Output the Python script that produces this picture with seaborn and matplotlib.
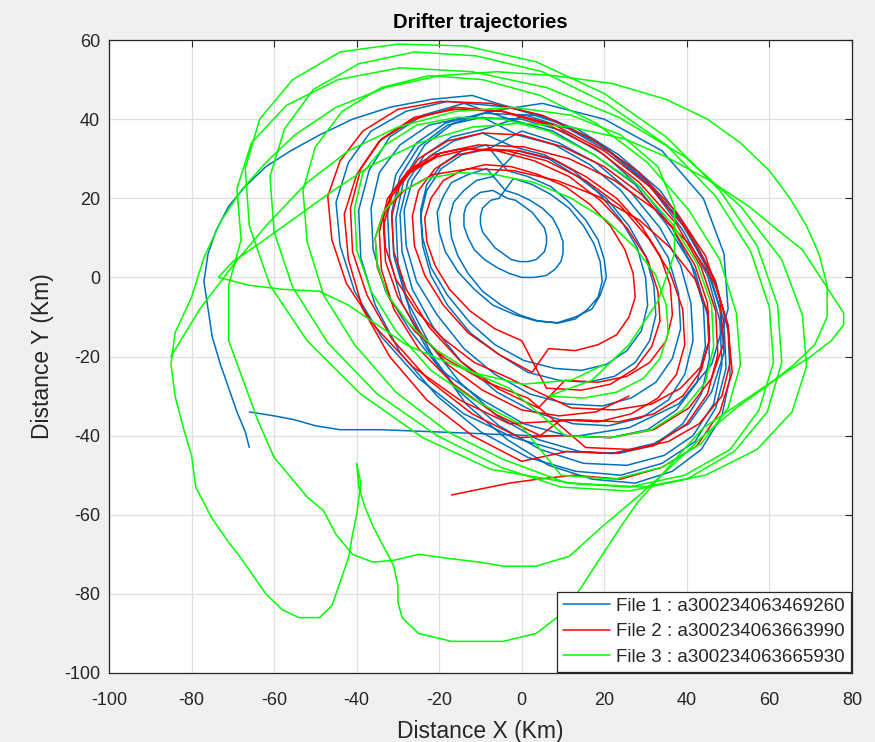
import matplotlib
matplotlib.use("Agg")
import matplotlib.pyplot as plt
import seaborn as sns
import pandas as pd

# File 1 : a300234063469260 (blue)
blue_x = [-66, -67, -69, -71, -73, -75, -76, -77, -76, -74, -71, -67, -62, -56, -49, -41, -32, -22, -12,
          -6, 6, 18, 29, 38, 44.5, 48, 49, 46, 40.5, 32, 22, 10, -2, -14, -25, -34, -40.5, -44, -45, -42, -36.5, -28, -18,
          -3, 8.5, 20, 30.5, 39.5, 45.5, 49, 49.5, 47, 42, 34, 24, 13, 1.5, -10, -20.5, -29.5, -35.5, -39, -39.5, -37, -32, -24, -14,
          -3, 7.5, 17.5, 27.5, 35, 41, 44, 44.5, 42.5, 37.5, 30.5, 21.5, 11, 0.5, -9.5, -19.5, -27, -33, -36, -36.5, -34.5, -29.5, -22.5, -13.5,
          0, 10, 20, 29, 36.5, 42, 45, 45.5, 43.5, 39, 32, 23.5, 14, 4, -6, -15, -22.5, -28, -31, -31.5, -29.5, -25, -18, -9.5,
          -1, 8, 16.5, 24, 30.5, 35.5, 38, 38.5, 36.5, 32.5, 26.5, 19.5, 11, 2, -6.5, -14, -20.5, -25.5, -28, -28.5, -26.5, -22.5, -16.5, -9.5,
          -2, 5.5, 12.5, 18.5, 24, 28, 30, 30.5, 29, 25.5, 20.5, 14.5, 8, 0.5, -6.5, -12.5, -18, -22, -24, -24.5, -23, -19.5, -14.5, -8.5,
          -3.5, 1.5, 7, 11.5, 15.5, 18.5, 20, 20.5, 19, 17, 13, 8.5, 3.5, -1.5, -7, -11.5, -15.5, -18.5, -20, -20.5, -19, -17, -13, -8.5,
          -4, -1, 2, 5, 7.5, 9, 10, 10, 9.5, 8, 6, 3, 0, -3, -6, -9, -11.5, -13, -14, -14, -13.5, -12, -10, -7,
          -3.5, -1.5, 0.5, 2.5, 4, 5.5, 6, 6, 5.5, 4.5, 3.5, 1.5, -0.5, -2.5, -4.5, -6.5, -8, -9.5, -10, -10, -9.5, -8.5, -7.5, -5.5,
          -2, 2.5, 7, 11.5, 15, 17.5, 19, 19.5, 18.5, 16, 13, 9, 4, -0.5, -5, -9.5, -13, -15.5, -17, -17.5, -16.5, -14, -11, -7,
          -1, 6.5, 13.5, 20.5, 26, 30, 32, 32.5, 31, 27.5, 22.5, 16, 9, 1.5, -5.5, -12.5, -18, -22, -24, -24.5, -23, -19.5, -14.5, -8,
          0, 9, 18, 26.5, 33.5, 38.5, 41, 41.5, 39.5, 35.5, 29, 21, 12.5, 3, -6, -14.5, -21.5, -26.5, -29, -29.5, -27.5, -23.5, -17, -9,
          1, 11.5, 21.5, 31.5, 39, 45, 48, 48.5, 46.5, 41.5, 34.5, 25.5, 15, 4.5, -5.5, -15.5, -23, -29, -32, -32.5, -30.5, -25.5, -18.5, -9.5,
          3, 13.5, 23.5, 33.5, 41, 47, 50, 50.5, 48.5, 43.5, 36.5, 27.5, 17, 6.5, -3.5, -13.5, -21, -27, -30, -30.5, -28.5, -23.5, -16.5, -7.5,
          5, 20, 34, 44, 49, 50, 46, 38, 26, 14, 2, -10, -22, -34, -44, -50, -55, -60, -66]
blue_y = [-43, -39, -34, -28, -22, -15, -8, -1, 6, 12, 18, 23, 28, 32, 36, 40, 43, 45, 46,
          44, 40.5, 34.5, 25.5, 15, 3.5, -8, -19, -29, -37, -42, -44.5, -44, -40.5, -34.5, -25.5, -15, -3.5, 8, 19, 29, 37, 42, 44.5,
          43, 39.5, 33, 24, 13, 1, -11, -23, -33, -41.5, -47, -50, -49, -45.5, -39, -30, -19, -7, 5, 17, 27, 35.5, 41, 44,
          40, 37, 31, 23.5, 13.5, 3.5, -7, -17.5, -26.5, -33.5, -38.5, -40.5, -40, -37, -31, -23.5, -13.5, -3.5, 7, 17.5, 26.5, 33.5, 38.5, 40.5,
          40, 37, 31, 22.5, 12.5, 1.5, -9.5, -20.5, -29.5, -37, -42.5, -44.5, -44, -41, -35, -26.5, -16.5, -5.5, 5.5, 16.5, 25.5, 33, 38.5, 40.5,
          36, 33.5, 28.5, 22, 13.5, 5, -4, -13, -20.5, -26.5, -30.5, -32.5, -32, -29.5, -24.5, -18, -9.5, -1, 8, 17, 24.5, 30.5, 34.5, 36.5,
          33, 31, 27, 21.5, 14.5, 7.5, 0, -7, -13.5, -18.5, -22, -23.5, -23, -21, -17, -11.5, -4.5, 2.5, 10, 17, 23.5, 28.5, 32, 33.5,
          27, 25.5, 23, 19, 14.5, 9.5, 4.5, 0, -4.5, -8, -10, -11.5, -11, -9.5, -7, -3, 1.5, 6.5, 11.5, 16.5, 20.5, 24, 26, 27.5,
          22, 21, 19.5, 17.5, 15, 12, 9, 6, 4, 2, 0.5, 0, 0, 1, 2.5, 4.5, 7, 10, 13, 16, 18, 20, 21.5, 22,
          20, 19.5, 18, 16.5, 14.5, 12.5, 10.5, 8.5, 6.5, 5.5, 4.5, 4, 4, 4.5, 6, 7.5, 9.5, 11.5, 13.5, 15.5, 17.5, 18.5, 19.5, 20,
          25, 23.5, 21, 17.5, 13, 8.5, 4, -1, -5, -8, -10.5, -11.5, -11, -9.5, -7, -3.5, 1, 5.5, 10, 15, 19, 22, 24.5, 25.5,
          32, 30, 25.5, 20, 13, 5.5, -2, -9.5, -16, -21.5, -25, -26.5, -26, -24, -19.5, -14, -7, 0.5, 8, 15.5, 22, 27.5, 31, 32.5,
          37, 34, 29, 21.5, 12.5, 3, -6.5, -16, -24.5, -31, -35.5, -37.5, -37, -34, -29, -21.5, -12.5, -3, 6.5, 16, 24.5, 31, 35.5, 37.5,
          41, 37.5, 31.5, 22.5, 12, 0.5, -11, -22, -32, -40, -45, -47.5, -47, -43.5, -37.5, -28.5, -18, -6.5, 5, 16, 26, 34, 39, 41.5,
          41, 37.5, 31, 22, 11, -1, -13.5, -25, -35, -43.5, -49, -52, -51, -47.5, -41, -32, -21, -9, 3.5, 15, 25, 33.5, 39, 42,
          44, 40, 32, 20, 6, -8, -22, -32, -38, -40, -40, -39.5, -39, -38.5, -38.5, -37.5, -36, -35, -34]

# File 2 : a300234063663990 (red)
red_x = [-17, -10, -3, 4,
         12.5, 24, 34, 42.5, 48, 51, 50, 46.5, 40, 31, 20, 8, -4.5, -16, -26, -34.5, -40, -43, -42, -38.5, -32, -23, -12, 0,
         11, 22, 32, 40, 45, 47.5, 47, 43.5, 37.5, 28.5, 18, 6.5, -5, -16, -26, -34, -39, -41.5, -41, -37.5, -31.5, -22.5, -12, -0.5,
         9.5, 21.5, 32, 40.5, 46, 49, 48, 44.5, 37.5, 28.5, 17, 5, -7.5, -19.5, -30, -38.5, -44, -47, -46, -42.5, -35.5, -26.5, -15, -3,
         14, 23.5, 32, 39, 43.5, 45.5, 45, 42, 36.5, 29, 20, 10, 0, -9.5, -18, -25, -29.5, -31.5, -31, -28, -22.5, -15, -6, 4,
         10.5, 18.5, 25.5, 31, 35, 36.5, 36, 33.5, 29, 23, 15.5, 7.5, -0.5, -8.5, -15.5, -21, -25, -26.5, -26, -23.5, -19, -13, -5.5, 2.5,
         6.5, 13, 18.5, 23, 26, 27.5, 27, 25, 21.5, 16.5, 10.5, 4, -2.5, -9, -14.5, -19, -22, -23.5, -23, -21, -17.5, -12.5, -6.5, 0,
         6, 14.5, 21.5, 27.5, 31.5, 33.5, 33, 30.5, 25.5, 19, 11.5, 3, -6, -14.5, -21.5, -27.5, -31.5, -33.5, -33, -30.5, -25.5, -19, -11.5, -3,
         12, 22.5, 31.5, 38.5, 43.5, 45.5, 45, 42, 36, 28.5, 18.5, 8.5, -2, -12.5, -21.5, -28.5, -33.5, -35.5, -35, -32, -26, -18.5, -8.5, 1.5,
         15.5, 26.5, 35.5, 43, 48.5, 50.5, 50, 47, 41, 32.5, 22.5, 11.5, 0.5, -10.5, -19.5, -27, -32.5, -34.5, -34, -31, -25, -16.5, -6.5, 4.5,
         9.5, 18.5, 26.5, 33, 37.5, 39.5, 39, 36, 31, 24, 15.5, 6, -3.5, -12.5, -20.5, -27, -31.5, -33.5, -33, -30, -25, -18, -9.5, 0,
         9, 18, 26]
red_y = [-55, -53.5, -52, -51,
         -50, -51, -48, -42.5, -34, -24, -12.5, 0, 12, 23, 32, 38.5, 42, 43, 40, 34.5, 26, 16, 4.5, -8, -20, -31, -40, -46.5,
         -44, -44.5, -42.5, -37, -29.5, -19.5, -8.5, 2.5, 13.5, 24, 32.5, 38.5, 42, 42.5, 40.5, 35, 27.5, 17.5, 6.5, -4.5, -15.5, -26, -34.5, -40.5,
         -40, -40.5, -38.5, -33, -25.5, -16.5, -5.5, 5.5, 16.5, 26.5, 35, 41, 44, 44.5, 42.5, 37, 29.5, 20.5, 9.5, -1.5, -12.5, -22.5, -31, -37,
         -36, -36.5, -34.5, -30, -23.5, -15.5, -6.5, 3, 12.5, 21, 28, 33, 36, 36.5, 34.5, 30, 23.5, 15.5, 6.5, -3, -12.5, -21, -28, -33,
         -26, -26.5, -25, -21.5, -16, -9.5, -2, 5.5, 13, 20, 25.5, 30, 32, 32.5, 31, 27.5, 22, 15.5, 8, 0.5, -7, -14, -19.5, -24,
         -18, -18.5, -17, -14.5, -10, -5, 1, 7, 13, 18.5, 23, 26, 28, 28.5, 27, 24.5, 20, 15, 9, 3, -3, -8.5, -13, -16,
         -28, -28.5, -27, -23, -17.5, -11, -3.5, 4.5, 12.5, 19.5, 25.5, 29.5, 32, 32.5, 31, 27, 21.5, 15, 7.5, -0.5, -8.5, -15.5, -21.5, -25.5,
         -33, -33.5, -32, -28, -22.5, -16, -8.5, -0.5, 7.5, 14.5, 20.5, 24.5, 27, 27.5, 26, 22, 16.5, 10, 2.5, -5.5, -13.5, -20.5, -26.5, -30.5,
         -43, -43.5, -41.5, -37, -30, -21.5, -12, -2, 8, 17, 24.5, 30, 33, 33.5, 31.5, 27, 20, 11.5, 2, -8, -18, -27, -34.5, -40,
         -36, -36.5, -34.5, -30.5, -24.5, -17, -8, 1, 9.5, 18, 24.5, 29.5, 32, 32.5, 30.5, 26.5, 20.5, 13, 4, -5, -13.5, -22, -28.5, -33.5,
         -35, -34, -30]

# File 3 : a300234063665930 (green)
green_x = [-85, -78, -70, -62, -52, -42, -30, -16, -2, 12, 24, 33, 37, 37, 33, 26, 17,
           6.5, 15, 23, 29.5, 33.5, 35.5, 35, 32.5, 27.5, 20.5, 12, 3, -6.5, -15, -23, -29.5, -33.5, -35.5, -35, -32.5, -27.5, -20.5, -12, -3,
           10.5, 21.5, 31.5, 39, 44.5, 46.5, 46, 42.5, 36.5, 28, 17.5, 6.5, -4.5, -15.5, -25.5, -33, -38.5, -40.5, -40, -36.5, -30.5, -22, -11.5, -0.5,
           9.5, 22.5, 34, 43.5, 50, 53, 52, 48, 40.5, 30.5, 18, 4.5, -9.5, -22.5, -34, -43.5, -50, -53, -52, -48, -40.5, -30.5, -18, -4.5,
           11, 26, 39.5, 50.5, 57.5, 61, 60, 55.5, 47, 35, 20.5, 5, -11, -26, -39.5, -50.5, -57.5, -61, -60, -55.5, -47, -35, -20.5, -5,
           9.5, 26, 40, 51.5, 59.5, 63, 62, 57, 48, 35, 20, 3.5, -13.5, -30, -44, -55.5, -63.5, -67, -66, -61, -52, -39, -24, -7.5,
           12, 29.5, 44.5, 57, 65.5, 69, 68, 63, 53, 39.5, 23.5, 6, -12, -29.5, -44.5, -57, -65.5, -69, -68,
           -71, -71, -67.5, -64, -60, -52, -48, -45, -41, -36, -31, -25, -18, -10, -4.5, 3.5, 11.5, 19.5, 28, 36, 44,
           52, 60, 66, 71, 74, 74, 72, 69, 65, 60, 53, 45, 35, 22, 8, -6, -20, -33, -45, -55, -62, -68, -73, -77,
           -80, -84, -85, -84, -82, -80, -79, -75, -71, -68, -62, -58, -54, -49, -46, -44, -42, -41, -40, -39, -40,
           -39.5, -38, -36, -33, -31, -30, -30, -29, -25, -17, -12.5, -4.5, 3.5, 8.5, 14, 19, 24, 28, 33, 38, 44,
           54, 64, 70, 75, 78, 78, 73, 68, 62, 55, 45.5, 35, 25, 12, 0, -12, -25, -37, -47, -55, -63, -70, -73.5,
           -66, -58, -49, -42, -35, -28, -21.5, -12, 0, 12, 20]
green_y = [-20, -8, 3, 13, 24, 32, 38, 42, 43, 41, 36, 28, 18, 6, -6, -17, -26,
           -30, -30.5, -29, -25.5, -20.5, -14, -7, 0.5, 7.5, 14.5, 20, 24, 26, 26.5, 25, 21.5, 16.5, 10, 3, -4.5, -11.5, -18.5, -24, -28,
           -40, -40.5, -38.5, -33.5, -26.5, -17.5, -7, 3.5, 13.5, 23.5, 31, 37, 40, 40.5, 38.5, 33.5, 26.5, 17.5, 7, -3.5, -13.5, -23.5, -31, -37,
           -50, -51, -48, -42, -33, -22, -9, 4.5, 17, 29, 39, 46, 50, 51, 48, 42, 33, 22, 9, -4.5, -17, -29, -39, -46,
           -52, -53, -50, -43.5, -33.5, -21.5, -7.5, 6.5, 20.5, 33.5, 44, 52, 56, 57, 54, 47.5, 37.5, 25.5, 11.5, -2.5, -16.5, -29.5, -40, -48,
           -53, -54, -51, -44, -34, -21.5, -7, 8, 22, 35.5, 46.5, 54.5, 58.5, 59, 57, 50, 40, 27.5, 13, -2, -16, -29.5, -40.5, -48.5,
           -52, -53, -50, -43.5, -34, -22.5, -9.5, 4.5, 18, 30.5, 40.5, 48, 52, 53, 50, 43.5, 34, 22.5, 9.5,
           -2, -16, -26, -36, -45.5, -55.5, -59, -65, -70, -72, -71.5, -70, -71, -72, -73, -73, -70.5, -63, -55.5, -48, -40,
           -33, -27, -22, -17, -10, -2, 6, 13, 20, 27, 34, 40, 45, 49, 51, 52, 51, 48, 43, 36, 29, 22, 14, 5,
           -5, -14, -22, -30, -38, -45, -53, -61, -67, -71, -80, -84, -86, -86, -83, -77, -71, -65, -60, -52, -47,
           -53, -58, -63, -69, -73, -78, -82, -86, -90, -92, -92, -92, -90, -86, -79, -71, -63, -57, -51, -45, -38,
           -31, -24, -20, -16, -12, -9, -1, 7, 12, 18, 24.5, 30.5, 35, 38, 39, 38, 34, 28, 21, 15, 9, 4, 0,
           -2, -3, -3.5, -7, -12, -17, -20, -24, -27, -26, -22]

files = ["File 1 : a300234063469260", "File 2 : a300234063663990", "File 3 : a300234063665930"]
colors = ["#0072bd", "#ff0000", "#00ff00"]

df = pd.concat([
    pd.DataFrame({"x": blue_x, "y": blue_y, "file": files[0]}),
    pd.DataFrame({"x": red_x, "y": red_y, "file": files[1]}),
    pd.DataFrame({"x": green_x, "y": green_y, "file": files[2]}),
])

sns.set_theme(style="whitegrid")
plt.rcParams["font.family"] = ["Liberation Sans", "DejaVu Sans"]
plt.rcParams["axes.unicode_minus"] = False

fig = plt.figure(figsize=(8.75, 7.42), dpi=100, facecolor="#f0f0f0")
ax = fig.add_axes([0.1246, 0.093, 0.849, 0.853])
ax.set_facecolor("white")

sns.lineplot(data=df, x="x", y="y", hue="file", palette=colors, sort=False,
             estimator=None, linewidth=1.1, ax=ax)

ax.set_xlim(-100, 80)
ax.set_ylim(-100, 60)
ax.set_xticks(range(-100, 81, 20))
ax.set_yticks(range(-100, 61, 20))
ax.grid(True, color="#e0e0e0", linewidth=0.9)
ax.tick_params(direction="in", top=True, right=True, length=5, width=0.8,
               labelsize=13, colors="#262626")
ax.tick_params(axis="x", pad=13.5)
ax.tick_params(axis="y", pad=6.5)
for s in ax.spines.values():
    s.set_color("#262626")
    s.set_linewidth(0.9)

ax.set_title("Drifter trajectories", fontsize=14.5, fontweight="bold", color="black", pad=8.5)
ax.set_xlabel("Distance X (Km)", fontsize=16.5, color="#262626", labelpad=8)
ax.set_ylabel("Distance Y (Km)", fontsize=16.5, color="#262626", labelpad=7)

leg = ax.legend(loc="lower right", fontsize=13.5, frameon=True, fancybox=False,
                edgecolor="#262626", framealpha=1, borderaxespad=0.05,
                handlelength=2.5, handletextpad=0.32, labelspacing=0.45, borderpad=0.32)
leg.get_frame().set_linewidth(0.9)

fig.savefig("out.png", dpi=100, facecolor=fig.get_facecolor())
